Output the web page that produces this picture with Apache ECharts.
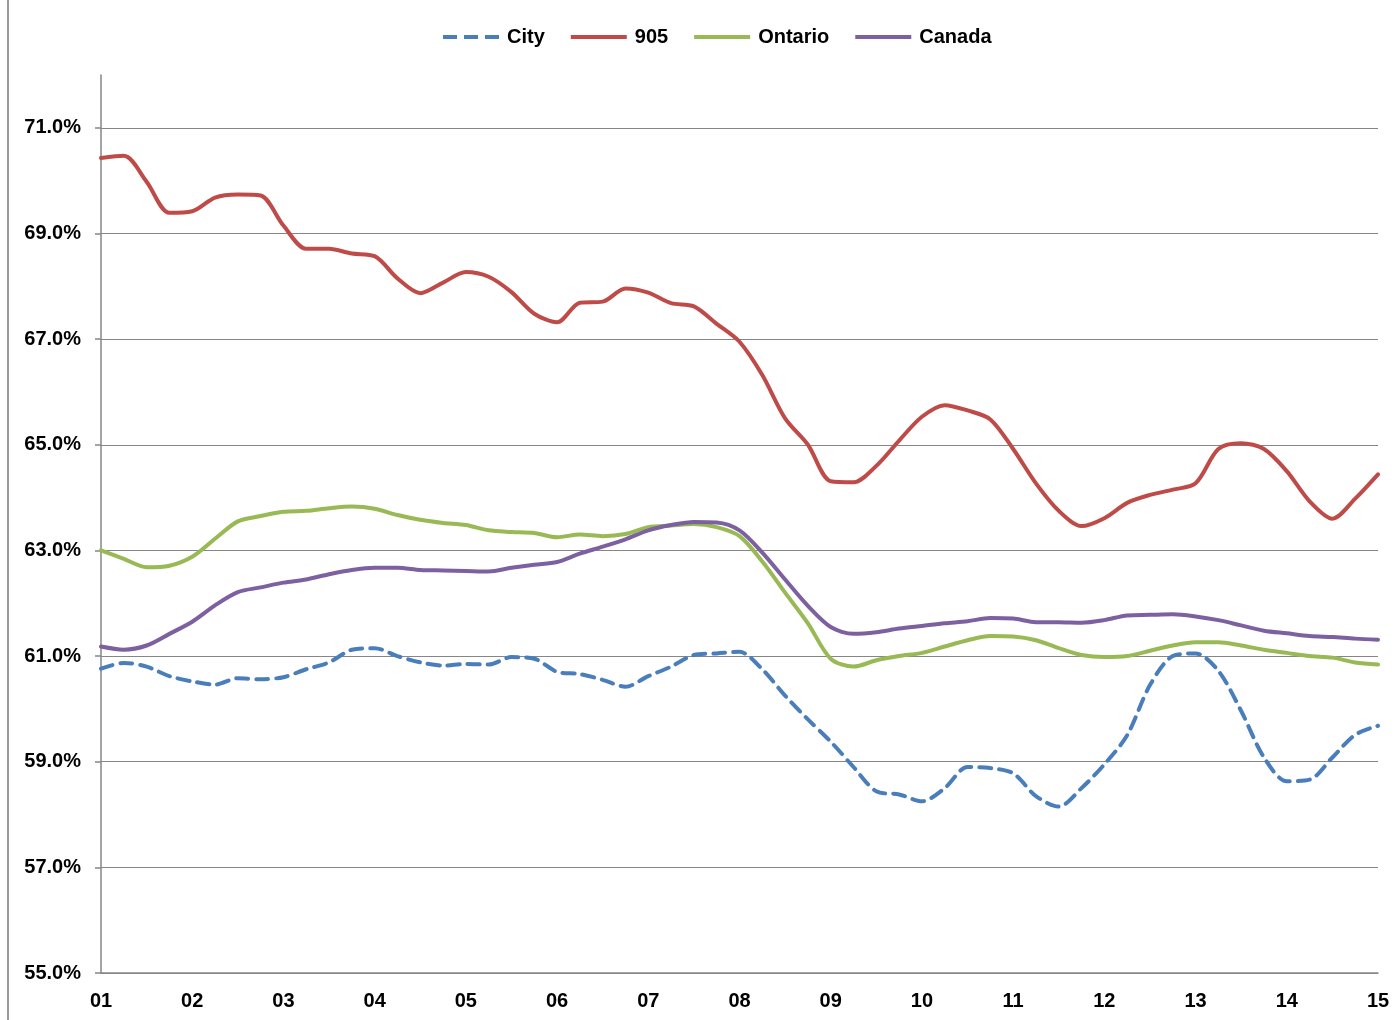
<!DOCTYPE html>
<html>
<head>
<meta charset="utf-8">
<script src="https://cdn.jsdelivr.net/npm/echarts@6/dist/echarts.min.js"></script>
<style>
  html, body { margin: 0; padding: 0; background: #fff; }
  #chart { width: 1398px; height: 1020px; }
</style>
</head>
<body>
<div id="chart"></div>
<script>
// quarterly points, Jan 2001 .. Jan 2015
var quarters = [];
for (var y = 2001; y <= 2015; y++) {
    ['01', '04', '07', '10'].forEach(function (mo) {
        if (y < 2015 || mo === '01') quarters.push(y + '-' + mo);
    });
}

var city = [60.76, 60.87, 60.80, 60.62, 60.52, 60.46, 60.58, 60.56, 60.60, 60.75,
    60.88, 61.12, 61.15, 61.00, 60.88, 60.82, 60.85, 60.84, 60.98, 60.95,
    60.70, 60.66, 60.55, 60.42, 60.62, 60.80, 61.02, 61.05, 61.08, 60.75,
    60.25, 59.80, 59.38, 58.90, 58.44, 58.38, 58.25, 58.50, 58.90, 58.88,
    58.78, 58.35, 58.15, 58.50, 58.95, 59.50, 60.45, 61.00, 61.05, 60.72,
    59.96, 59.08, 58.63, 58.66, 59.08, 59.51, 59.68];

var gta905 = [70.43, 70.47, 69.98, 69.39, 69.42, 69.68, 69.74, 69.72, 69.15, 68.71,
    68.71, 68.62, 68.57, 68.15, 67.87, 68.07, 68.27, 68.18, 67.89, 67.48,
    67.32, 67.69, 67.71, 67.96, 67.88, 67.68, 67.62, 67.29, 66.95, 66.32,
    65.50, 65.00, 64.31, 64.29, 64.60, 65.08, 65.53, 65.75, 65.65, 65.48,
    64.92, 64.27, 63.75, 63.46, 63.61, 63.90, 64.05, 64.15, 64.27, 64.92,
    65.03, 64.92, 64.50, 63.93, 63.60, 63.98, 64.44];

var ontario = [63.00, 62.84, 62.68, 62.71, 62.88, 63.22, 63.55, 63.65, 63.73, 63.75,
    63.80, 63.83, 63.79, 63.67, 63.58, 63.52, 63.48, 63.38, 63.35, 63.33,
    63.25, 63.30, 63.27, 63.31, 63.44, 63.47, 63.50, 63.44, 63.27, 62.79,
    62.20, 61.62, 60.95, 60.80, 60.92, 61.00, 61.06, 61.18, 61.30, 61.38,
    61.37, 61.30, 61.15, 61.02, 60.98, 61.00, 61.10, 61.20, 61.26, 61.26,
    61.20, 61.12, 61.06, 61.00, 60.97, 60.88, 60.84];

var canada = [61.18, 61.12, 61.20, 61.42, 61.65, 61.96, 62.21, 62.30, 62.39, 62.45,
    62.55, 62.63, 62.67, 62.67, 62.63, 62.62, 62.61, 62.60, 62.67, 62.73,
    62.78, 62.94, 63.07, 63.21, 63.38, 63.48, 63.54, 63.53, 63.38, 62.96,
    62.45, 61.95, 61.55, 61.42, 61.45, 61.52, 61.57, 61.62, 61.66, 61.72,
    61.71, 61.64, 61.64, 61.63, 61.68, 61.77, 61.78, 61.79, 61.75, 61.68,
    61.58, 61.48, 61.43, 61.38, 61.36, 61.33, 61.31];

var colors = ['#4a7ebb', '#be4b48', '#98b954', '#7d60a0'];
var font = '"Liberation Sans", Arial, sans-serif';

// legend swatches: plain bar, and three dashes for City
var solidIcon = 'path://M0,0H56V4H0Z';
var dashIcon = 'path://M0,0H14V4H0Z M21,0H35V4H21Z M42,0H56V4H42Z';

function line(name, data, color, dashed) {
    return {
        name: name,
        type: 'line',
        data: data,
        symbol: 'none',
        smooth: 0.3,
        lineStyle: { color: color, width: 4, type: dashed ? [12, 8] : 'solid', cap: 'round' },
        itemStyle: { color: color }
    };
}

var chart = echarts.init(document.getElementById('chart'));
chart.setOption({
    animation: false,
    backgroundColor: '#fff',
    color: colors,
    legend: {
        top: 22,
        left: 438,
        itemWidth: 56,
        itemHeight: 4,
        itemGap: 26,
        textStyle: { fontFamily: font, fontWeight: 'bold', fontSize: 20, color: '#000', padding: [0, 0, 0, 3] },
        data: [
            { name: 'City', icon: dashIcon },
            { name: '905', icon: solidIcon },
            { name: 'Ontario', icon: solidIcon },
            { name: 'Canada', icon: solidIcon }
        ]
    },
    grid: { left: 101, right: 20, top: 75, bottom: 47, containLabel: false },
    xAxis: {
        type: 'category',
        data: quarters,
        boundaryGap: false,
        axisLine: { lineStyle: { color: '#868686', width: 1.5 } },
        axisTick: { show: false },
        axisLabel: {
            interval: 3,
            margin: 18,
            fontFamily: font, fontWeight: 'bold', fontSize: 20, color: '#000',
            formatter: function (v) { return v.slice(2, 4); }
        },
        splitLine: { show: false }
    },
    yAxis: {
        type: 'value',
        min: 55,
        max: 72,
        interval: 2,
        axisLine: { show: true, lineStyle: { color: '#868686', width: 1.5 } },
        axisTick: { show: true, inside: false, length: 6, lineStyle: { color: '#868686', width: 1.5 } },
        axisLabel: {
            margin: 20,
            showMaxLabel: false,
            fontFamily: font, fontWeight: 'bold', fontSize: 20, color: '#000',
            formatter: function (v) { return v.toFixed(1) + '%'; }
        },
        splitLine: { show: true, showMaxLine: false, lineStyle: { color: '#868686', width: 1.2 } }
    },
    graphic: [{
        type: 'line',
        shape: { x1: 8, y1: 0, x2: 8, y2: 1020 },
        style: { stroke: '#9a9a9a', lineWidth: 2 }
    }],
    series: [
        line('City', city, colors[0], true),
        line('905', gta905, colors[1], false),
        line('Ontario', ontario, colors[2], false),
        line('Canada', canada, colors[3], false)
    ]
});
</script>
</body>
</html>
